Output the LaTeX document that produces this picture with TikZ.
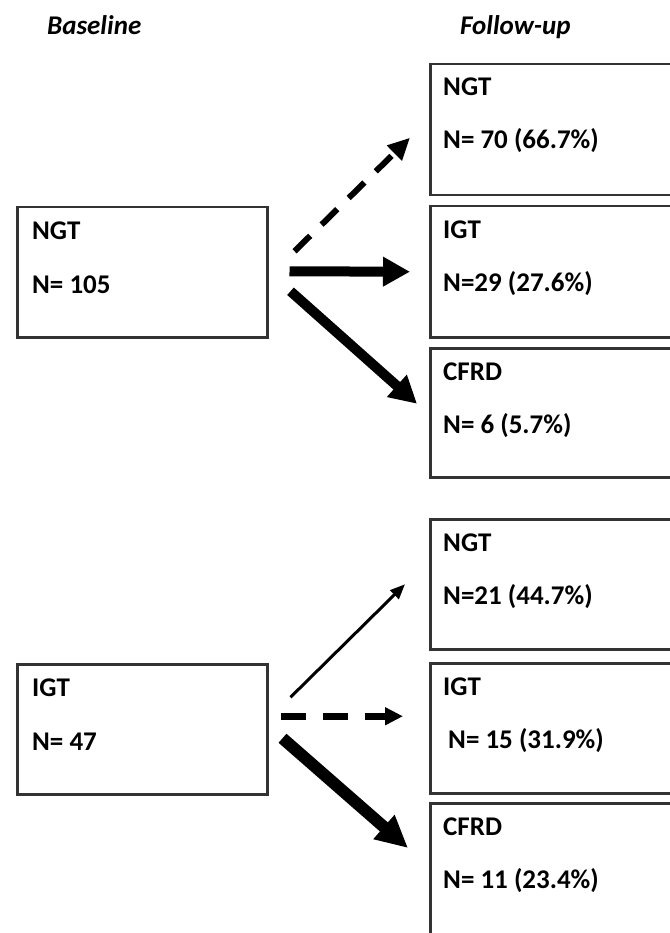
\documentclass[tikz,border=0pt]{standalone}
\usepackage{fontspec}
\setmainfont{Carlito}
\usetikzlibrary{arrows.meta}

\begin{document}
\begin{tikzpicture}[x=1pt,y=-1pt,>=Triangle,
        box/.style={draw=black!80,line width=2.5pt,anchor=north west,inner sep=0pt,minimum width=250pt,minimum height=130pt},
        wide/.style={box,minimum width=262pt},
        txt/.style={anchor=base west,inner sep=0pt,font=\fontsize{27}{32}\selectfont\bfseries},
        head/.style={txt,font=\fontsize{27}{32}\selectfont\bfseries\itshape},
        heavy/.style={->,line width=10pt,>={Triangle[length=27pt,width=28pt]}},
        dashy/.style={->,line width=6pt,dash pattern=on 22pt off 16pt,>={Triangle[length=22pt,width=20pt]}},
        slim/.style={->,line width=3pt,>={Triangle[length=15pt,width=12pt]}}]
		\useasboundingbox (0, 0) rectangle (669, 933);
		\node [head] (h1) at (47, 35) {Baseline};
		\node [head] (h2) at (460, 35) {Follow-up};
		\node [box] (1) at (16, 206) {};
		\node [box] (2) at (16, 663) {};
		\node [wide,minimum height=131pt] (3) at (429, 63) {};
		\node [wide,minimum height=131pt] (4) at (429, 205) {};
		\node [wide,minimum height=129pt] (5) at (429, 347) {};
		\node [wide] (6) at (429, 518) {};
		\node [wide] (7) at (429, 662) {};
		\node [wide,minimum height=150pt] (8) at (429, 802) {};
		\node [txt] (1a) at ([shift={(16,33)}]1.north west) {NGT};
		\node [txt] (1b) at ([shift={(16,87)}]1.north west) {N= 105};
		\node [txt] (2a) at ([shift={(16,33)}]2.north west) {IGT};
		\node [txt] (2b) at ([shift={(16,87)}]2.north west) {N= 47};
		\node [txt] (3a) at ([shift={(14,33)}]3.north west) {NGT};
		\node [txt] (3b) at ([shift={(14,86)}]3.north west) {N= 70 (66.7\%)};
		\node [txt] (4a) at ([shift={(14,33)}]4.north west) {IGT};
		\node [txt] (4b) at ([shift={(14,86)}]4.north west) {N=29 (27.6\%)};
		\node [txt] (5a) at ([shift={(14,33)}]5.north west) {CFRD};
		\node [txt] (5b) at ([shift={(14,86)}]5.north west) {N= 6 (5.7\%)};
		\node [txt] (6a) at ([shift={(14,33)}]6.north west) {NGT};
		\node [txt] (6b) at ([shift={(14,86)}]6.north west) {N=21 (44.7\%)};
		\node [txt] (7a) at ([shift={(14,33)}]7.north west) {IGT};
		\node [txt] (7b) at ([shift={(19,86)}]7.north west) {N= 15 (31.9\%)};
		\node [txt] (8a) at ([shift={(14,33)}]8.north west) {CFRD};
		\node [txt] (8b) at ([shift={(14,86)}]8.north west) {N= 11 (23.4\%)};
		% from NGT
		\draw [dashy] ([shift={(26,-21)}]1.east) -- ([shift={(-19,8)}]3.west);
		\draw [heavy] ([shift={(21,-1)}]1.east) -- ([xshift=-19pt]4.west);
		\draw [heavy] ([shift={(22,19)}]1.east) -- ([shift={(-12,-9)}]5.west);
		% from IGT
		\draw [slim] ([shift={(22,-32)}]2.east) -- ([xshift=-24pt]6.west);
		\draw [dashy,line width=7pt,dash pattern=on 25pt off 17pt,>={Triangle[length=18pt,width=17pt]}] ([shift={(12,-13)}]2.east) -- ([shift={(-26,-12)}]7.west);
		\draw [heavy,line width=12pt,>={Triangle[length=32pt,width=30pt]}] ([shift={(14,9)}]2.east) -- ([shift={(-21,46)}]8.north west);
\end{tikzpicture}
\end{document}
